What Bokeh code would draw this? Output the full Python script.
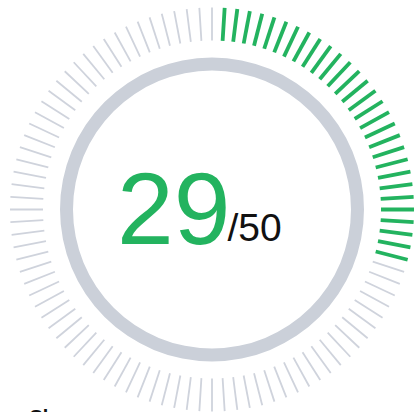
import numpy as np
from bokeh.plotting import figure
from bokeh.models import Range1d, ColumnDataSource
from bokeh.core.properties import value
from bokeh.embed import file_html
from bokeh.resources import INLINE

# data
score = 29
max_score = 50
n_ticks = 100
title_text = "Sleep"

GREEN = "#23b35f"
GRAY_TICK = "#cfd3dc"
RING = "#cbd0d9"

W, H = 414, 412
cx, cy = 211.5, 209.0
r_in, r_out = 169.0, 202.0

p = figure(width=W, height=H, output_backend="svg", toolbar_location=None,
           x_range=Range1d(0, W), y_range=Range1d(H, 0), min_border=0)
p.axis.visible = False
p.grid.visible = False
p.outline_line_color = None
p.background_fill_color = "white"
p.border_fill_color = "white"

idx = np.arange(n_ticks)
ang = np.deg2rad(idx * 360.0 / n_ticks)
x0 = cx + r_in * np.sin(ang)
y0 = cy - r_in * np.cos(ang)
x1 = cx + r_out * np.sin(ang)
y1 = cy - r_out * np.cos(ang)
active = (idx >= 1) & (idx <= score)

src_g = ColumnDataSource(dict(x0=x0[~active], y0=y0[~active], x1=x1[~active], y1=y1[~active]))
src_a = ColumnDataSource(dict(x0=x0[active], y0=y0[active], x1=x1[active], y1=y1[active]))
p.segment("x0", "y0", "x1", "y1", source=src_g, line_color=GRAY_TICK, line_width=1.8)
p.segment("x0", "y0", "x1", "y1", source=src_a, line_color=GREEN, line_width=3.8)

p.annulus(x=[cx], y=[cy], inner_radius=139, outer_radius=152,
          fill_color=RING, line_color=None)

p.text(x=[230], y=[243], text=[str(score)], text_font=value("Liberation Sans"),
       text_font_size="102px", text_color=GREEN, text_align="right",
       text_baseline="bottom")
p.text(x=[227], y=[248], text=["/" + str(max_score)], text_font=value("Liberation Sans"),
       text_font_size="39px", text_color="#111111", text_align="left",
       text_baseline="bottom")

p.text(x=[29], y=[405], text=[title_text], text_font=value("Liberation Sans"),
       text_font_style="bold", text_font_size="20px", text_color="#111111",
       text_align="left", text_baseline="top")

open("out.html", "w").write(file_html(p, INLINE))
